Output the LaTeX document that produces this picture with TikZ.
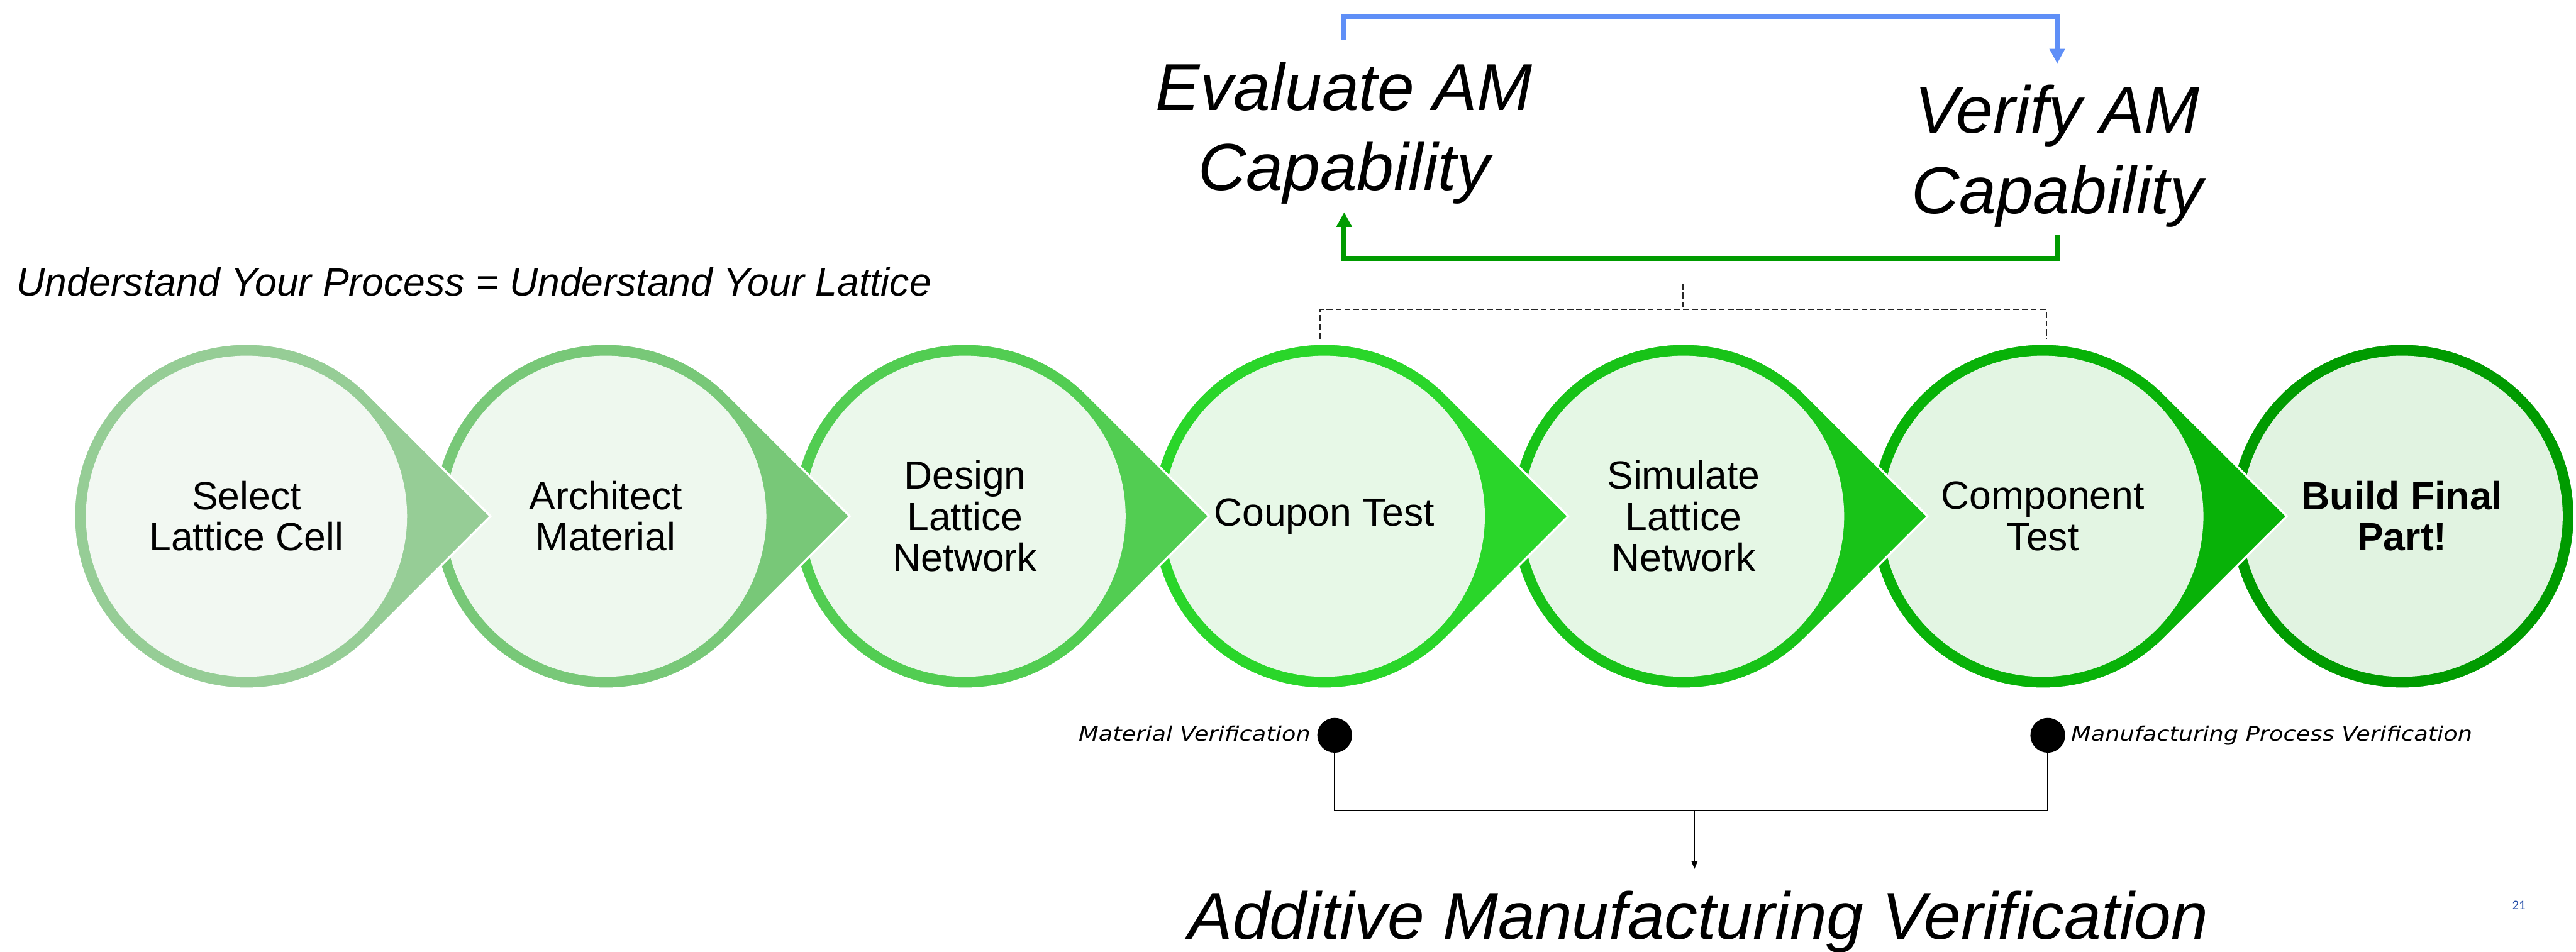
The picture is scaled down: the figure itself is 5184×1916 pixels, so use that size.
\documentclass[tikz,border=0pt]{standalone}
\usepackage{fontspec}
\setmainfont{Liberation Sans}
\newfontfamily\smallfont[FakeStretch=1.15]{DejaVu Sans}
\newfontfamily\pgfont{Carlito}
\usetikzlibrary{arrows.meta}
\definecolor{rA}{HTML}{96CD96}\definecolor{iA}{HTML}{F2F8F2}
\definecolor{rB}{HTML}{78C878}\definecolor{iB}{HTML}{EEF8EE}
\definecolor{rC}{HTML}{52CD52}\definecolor{iC}{HTML}{EBF8EB}
\definecolor{rD}{HTML}{2AD62A}\definecolor{iD}{HTML}{E7F8E7}
\definecolor{rE}{HTML}{18C318}\definecolor{iE}{HTML}{E5F7E5}
\definecolor{rF}{HTML}{08B208}\definecolor{iF}{HTML}{E3F5E3}
\definecolor{rG}{HTML}{009B00}\definecolor{iG}{HTML}{E1F3E1}
\definecolor{arrblue}{HTML}{5F8FF7}
\definecolor{arrgreen}{HTML}{009B00}
\definecolor{pgblue}{RGB}{31,73,165}
\newcommand{\pointer}[2]{%
  \path[ringshape=#2] (#1+491,1039) -- ++(-245.6,245.4)
    arc[start angle=45,end angle=315,radius=347] -- cycle;}
\tikzset{
  ringshape/.style={fill=#1, draw=white, line width=1.2pt},
  stepc/.style={circle, inner sep=0pt, minimum size=6.46cm, fill=#1,
    align=center, font=\fontsize{22.5}{23.5}\selectfont},
  bigtxt/.style={align=center, inner sep=0pt, font=\fontsize{38}{45.9}\selectfont\itshape},
  brk/.style={draw=black!85, line width=0.85pt, dash pattern=on 3.4pt off 1.7pt},
  bluearr/.style={draw=arrblue, line width=2.85pt, -{Triangle[length=8.5pt,width=8.5pt]}},
  greenarr/.style={draw=arrgreen, line width=2.85pt, -{Triangle[length=8.5pt,width=8.5pt]}},
  thinl/.style={draw=black, line width=0.6pt},
  dot/.style={circle, fill=black, inner sep=0pt, minimum size=0.7cm},
  smalllbl/.style={inner sep=0pt, font=\smallfont\itshape\fontsize{11.5}{13}\selectfont},
}
\begin{document}
\begin{tikzpicture}[x=0.01cm,y=-0.01cm]
\useasboundingbox (0,0) rectangle (5184,1916);
% steps, drawn right to left
\path[ringshape=rG] (4834,1039) circle[radius=347];
\node[stepc=iG] (s7) at (4834,1039) {\bfseries Build Final\\\bfseries Part!};
\pointer{4111}{rF}
\node[stepc=iF] (s6) at (4111,1039) {Component\\Test};
\pointer{3388}{rE}
\node[stepc=iE] (s5) at (3388,1039) {Simulate\\Lattice\\Network};
\pointer{2665}{rD}
\node[stepc=iD] (s4) at (2665,1039) {Coupon Test};
\pointer{1942}{rC}
\node[stepc=iC] (s3) at (1942,1039) {Design\\Lattice\\Network};
\pointer{1219}{rB}
\node[stepc=iB] (s2) at (1219,1039) {Architect\\Material};
\pointer{496}{rA}
\node[stepc=iA] (s1) at (496,1039) {Select\\Lattice Cell};
% titles
\node[anchor=base west, inner sep=0pt, font=\fontsize{22.5}{23.5}\selectfont\itshape] (under) at (33,595)
  {Understand Your Process = Understand Your Lattice};
\node[bigtxt] (eval) at (2705,268) {Evaluate AM\\Capability};
\node[bigtxt] (verify) at (4140,314) {Verify AM\\Capability};
% AM capability loop
\coordinate (b1) at (2705,81);
\coordinate (b2) at (4140,128);
\draw[bluearr] (b1) -- (2705,33) -| (b2);
\coordinate (g1) at (4140,473);
\coordinate (g2) at (2705,427);
\draw[greenarr] (g1) -- (4140,520) -| (g2);
% dashed bracket
\coordinate (dl) at (2657,682);
\coordinate (dr) at (4118,682);
\coordinate (dt) at (3387,569);
\draw[brk] (dl) |- (3387,623) -| (dr);
\draw[brk] (3387,619) -- (dt);
% verification
\node[dot] (mv) at (2686,1480) {};
\node[dot] (mpv) at (4121,1480) {};
\node[smalllbl, anchor=base east] (mvl) at (2638,1492) {Material Verification};
\node[smalllbl, anchor=base west] (mpvl) at (4167,1492) {Manufacturing Process Verification};
\node[anchor=base, inner sep=0pt, font=\fontsize{38}{45.9}\selectfont\itshape] (amv) at (3418,1890)
  {Additive Manufacturing Verification};
\coordinate (amt) at (3410,1749);
\draw[thinl] (mv.south) |- (3403,1631) -| (mpv.south);
\draw[thinl, -{Triangle[length=4.5pt,width=3.5pt]}] (3410,1631) -- (amt);
\node[font=\pgfont\fontsize{7.5}{9}\selectfont, text=pgblue, inner sep=0pt] (pg) at (5069,1822) {21};
\end{tikzpicture}
\end{document}
